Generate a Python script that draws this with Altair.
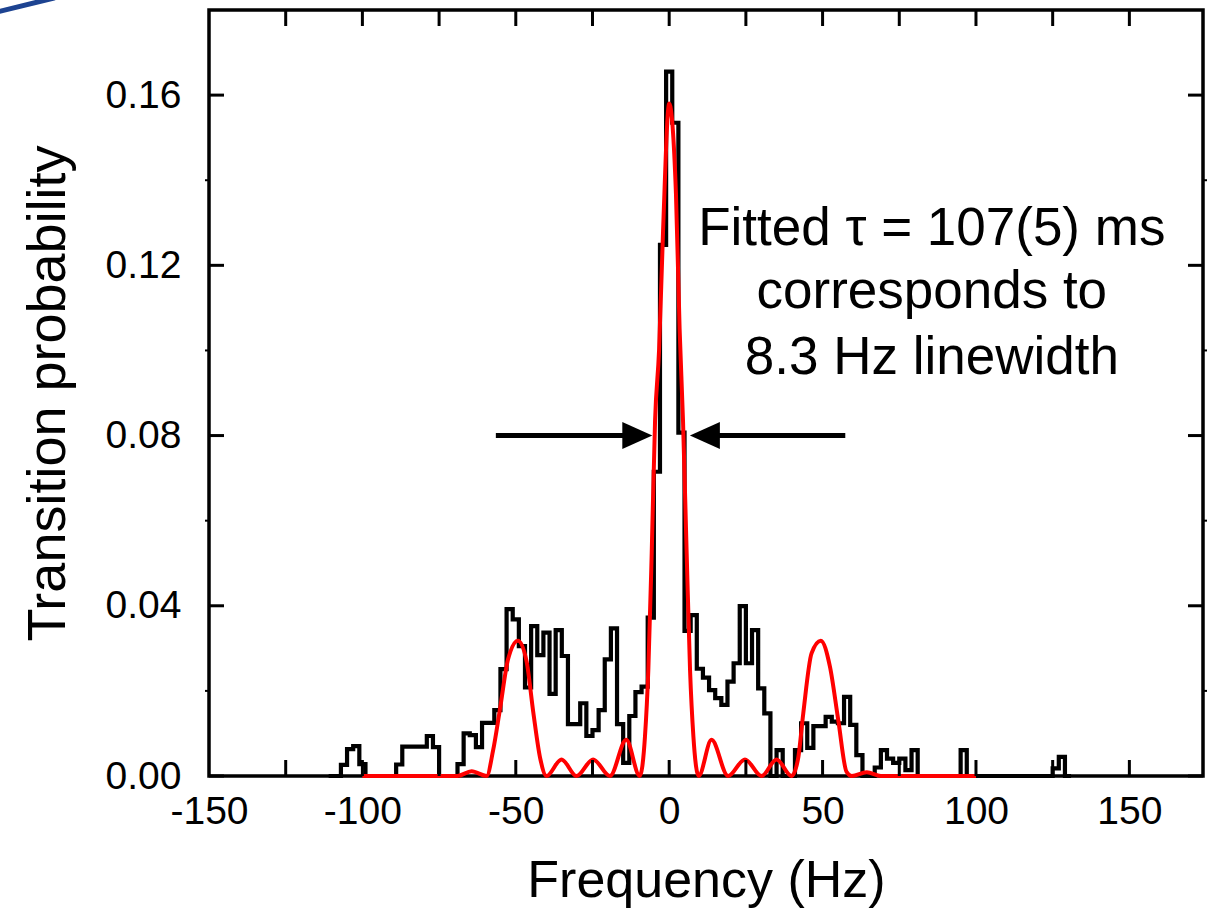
import altair as alt
import pandas as pd

# Measured transition probability, 2 Hz bins (bin centres in Hz)
bin_centers = list(range(-110, 132, 2))
probability = [
    0, 0, 0.0026, 0.0063, 0.0070, 0.0028, 0, 0, 0, 0,
    0, 0.0027, 0.0069, 0.0069, 0.0069, 0.0069, 0.0094, 0.0068, 0, 0,
    0, 0.0028, 0.0100, 0.0096, 0.0068, 0.0125, 0.0125, 0.0155, 0.0251, 0.0392,
    0.0368, 0.0305, 0.0208, 0.0352, 0.0284, 0.0337, 0.0193, 0.0343, 0.0282, 0.0122,
    0.0122, 0.0171, 0.0094, 0.0108, 0.0155, 0.0274, 0.0347, 0.0122, 0.0031, 0.0141,
    0.0197, 0.0210, 0.0372, 0.0715, 0.1248, 0.1655, 0.1535, 0.0807, 0.0341, 0.0378,
    0.0252, 0.0231, 0.0202, 0.0183, 0.0167, 0.0222, 0.0265, 0.0399, 0.0265, 0.0343,
    0.0206, 0.0147, 0, 0.0061, 0, 0, 0.0061, 0.0124, 0.0066, 0.0117,
    0.0117, 0.0139, 0.0128, 0.0124, 0.0186, 0.0120, 0.0049, 0, 0, 0.0020,
    0.0061, 0.0041, 0.0031, 0.0041, 0.0014, 0.0061, 0, 0, 0, 0,
    0, 0, 0, 0.0061, 0, 0, 0, 0, 0, 0,
    0, 0, 0, 0, 0, 0, 0, 0, 0.0018, 0.0045,
    0,
]

# Fitted lineshape, sampled at its lobes and nodes
fit_freq = [-100, -69, -64.4, -59.5, -57.4, -55.2, -52.5, -49.3, -46.5, -44.3,
            -42, -40, -35.1, -30.2, -24.8, -19.3, -14, -9.6, -7.9, -6.8,
            -5.7, -4.6, -3.3, -2, 0, 2.2, 3.4, 4.5, 5.7, 6.8,
            7.9, 9.6, 13.8, 19.2, 24.7, 30.1, 35, 39.9, 42, 43.7,
            46.4, 49.4, 52.4, 55.1, 57.8, 59.5, 64.4, 69, 100]
fit_prob = [0, 0, 0.0011, 0, 0.006, 0.0155, 0.0275, 0.0318, 0.027, 0.015,
            0.004, 0, 0.0039, 0, 0.0039, 0, 0.0085, 0, 0.0092, 0.0249,
            0.0523, 0.0836, 0.100, 0.128, 0.158, 0.137, 0.105, 0.0836, 0.0523, 0.0249,
            0.0092, 0, 0.0085, 0, 0.0039, 0, 0.0039, 0, 0.004, 0.0147,
            0.0288, 0.0318, 0.0257, 0.0132, 0.001, 0, 0.0009, 0, 0]

x_labels = [-150, -100, -50, 0, 50, 100, 150]
x_ticks = [-125, -100, -75, -50, -25, 0, 25, 50, 75, 100, 125, 150]
y_major = [0, 0.04, 0.08, 0.12, 0.16]
y_minor = [0.02, 0.06, 0.10, 0.14]

W, H = 994, 766
FONT = "Liberation Sans"

hist_df = pd.DataFrame({
    "freq": [c - 1 for c in bin_centers] + [bin_centers[-1] + 1],
    "prob": probability + [0],
})
fit_df = pd.DataFrame({"freq": fit_freq, "prob": fit_prob})

xs = alt.Scale(domain=[-150, 174], nice=False, zero=False)
ys = alt.Scale(domain=[0, 0.18], nice=False, zero=False)

x_axis = alt.Axis(values=x_labels, labelExpr="datum.value + ''", title="Frequency (Hz)",
                  ticks=False, domain=False, grid=False, labelFontSize=39,
                  labelFlush=False, labelOverlap=False,
                  labelPadding=16, titleFontSize=52, titlePadding=24,
                  titleFontWeight="normal", labelColor="black", titleColor="black",
                  labelFont=FONT, titleFont=FONT)
y_axis = alt.Axis(values=y_major, format=".2f", title="Transition probability",
                  ticks=False, domain=False, grid=False, labelFontSize=39,
                  labelFlush=False, labelOverlap=False,
                  labelPadding=28, titleFontSize=54, titlePadding=30,
                  titleFontWeight="normal", labelColor="black", titleColor="black",
                  labelFont=FONT, titleFont=FONT)

hist = alt.Chart(hist_df).mark_line(
    interpolate="step-after", color="black", strokeWidth=4.2, strokeJoin="miter"
).encode(
    x=alt.X("freq:Q", scale=xs, axis=x_axis),
    y=alt.Y("prob:Q", scale=ys, axis=y_axis),
)

fit = alt.Chart(fit_df).mark_line(
    interpolate="monotone", color="#ff0000", strokeWidth=4
).encode(
    x=alt.X("freq:Q", scale=xs),
    y=alt.Y("prob:Q", scale=ys),
)

# Inward ticks on all four sides, tiny outward minor ticks on the y sides
xt = pd.DataFrame({"t": x_ticks})
tick_bottom = alt.Chart(xt).mark_rule(color="black", strokeWidth=3).encode(
    x=alt.X("t:Q", scale=xs), y=alt.value(H), y2=alt.value(H - 16))
tick_top = alt.Chart(xt).mark_rule(color="black", strokeWidth=3).encode(
    x=alt.X("t:Q", scale=xs), y=alt.value(0), y2=alt.value(16))

ym = pd.DataFrame({"t": y_major})
yn = pd.DataFrame({"t": y_minor})
tick_left = alt.Chart(ym).mark_rule(color="black", strokeWidth=3).encode(
    y=alt.Y("t:Q", scale=ys), x=alt.value(0), x2=alt.value(15))
tick_right = alt.Chart(ym).mark_rule(color="black", strokeWidth=3).encode(
    y=alt.Y("t:Q", scale=ys), x=alt.value(W), x2=alt.value(W - 15))
minor_left = alt.Chart(yn).mark_rule(color="black", strokeWidth=2).encode(
    y=alt.Y("t:Q", scale=ys), x=alt.value(0), x2=alt.value(-4))
minor_right = alt.Chart(yn).mark_rule(color="black", strokeWidth=2).encode(
    y=alt.Y("t:Q", scale=ys), x=alt.value(W), x2=alt.value(W + 4))

# Linewidth arrows
arrow_left = alt.Chart().mark_rule(color="black", strokeWidth=5).encode(
    x=alt.datum(-56.5), x2=alt.datum(-12), y=alt.datum(0.08))
arrow_right = alt.Chart().mark_rule(color="black", strokeWidth=5).encode(
    x=alt.datum(14), x2=alt.datum(57.4), y=alt.datum(0.08))
head_left = alt.Chart().mark_point(
    shape="M 0 0 L -1 -0.45 L -1 0.45 Z", filled=True, size=3600,
    color="black", opacity=1, strokeWidth=0
).encode(x=alt.datum(-5.5), y=alt.datum(0.08))
head_right = alt.Chart().mark_point(
    shape="M 0 0 L 1 -0.45 L 1 0.45 Z", filled=True, size=3600,
    color="black", opacity=1, strokeWidth=0
).encode(x=alt.datum(6.75), y=alt.datum(0.08))

def note(text, prob):
    return alt.Chart().mark_text(
        font=FONT, fontSize=53, align="center", baseline="alphabetic", color="black"
    ).encode(x=alt.datum(85.6), y=alt.datum(prob), text=alt.value(text))

notes = [
    note("Fitted \u03c4 = 107(5) ms", 0.1248),
    note("corresponds to", 0.1100),
    note("8.3 Hz linewidth", 0.0945),
]

# Corner swoosh of the slide template
swoosh = alt.Chart().mark_rule(color="#1d4391", strokeWidth=5, strokeCap="round").encode(
    x=alt.value(-212), y=alt.value(2), x2=alt.value(-155), y2=alt.value(-12))

chart = alt.layer(
    hist, fit, tick_bottom, tick_top, tick_left, tick_right, minor_left, minor_right,
    arrow_left, arrow_right, head_left, head_right, *notes, swoosh,
).properties(
    width=W, height=H,
    autosize=alt.AutoSizeParams(type="none"),
    padding={"left": 209, "top": 10, "right": 13, "bottom": 143},
    background="white",
).configure(
    font=FONT,
    view=alt.ViewConfig(stroke="black", strokeWidth=3.5),
)

chart.save("out.html", embed_options={"renderer": "svg", "actions": False})
